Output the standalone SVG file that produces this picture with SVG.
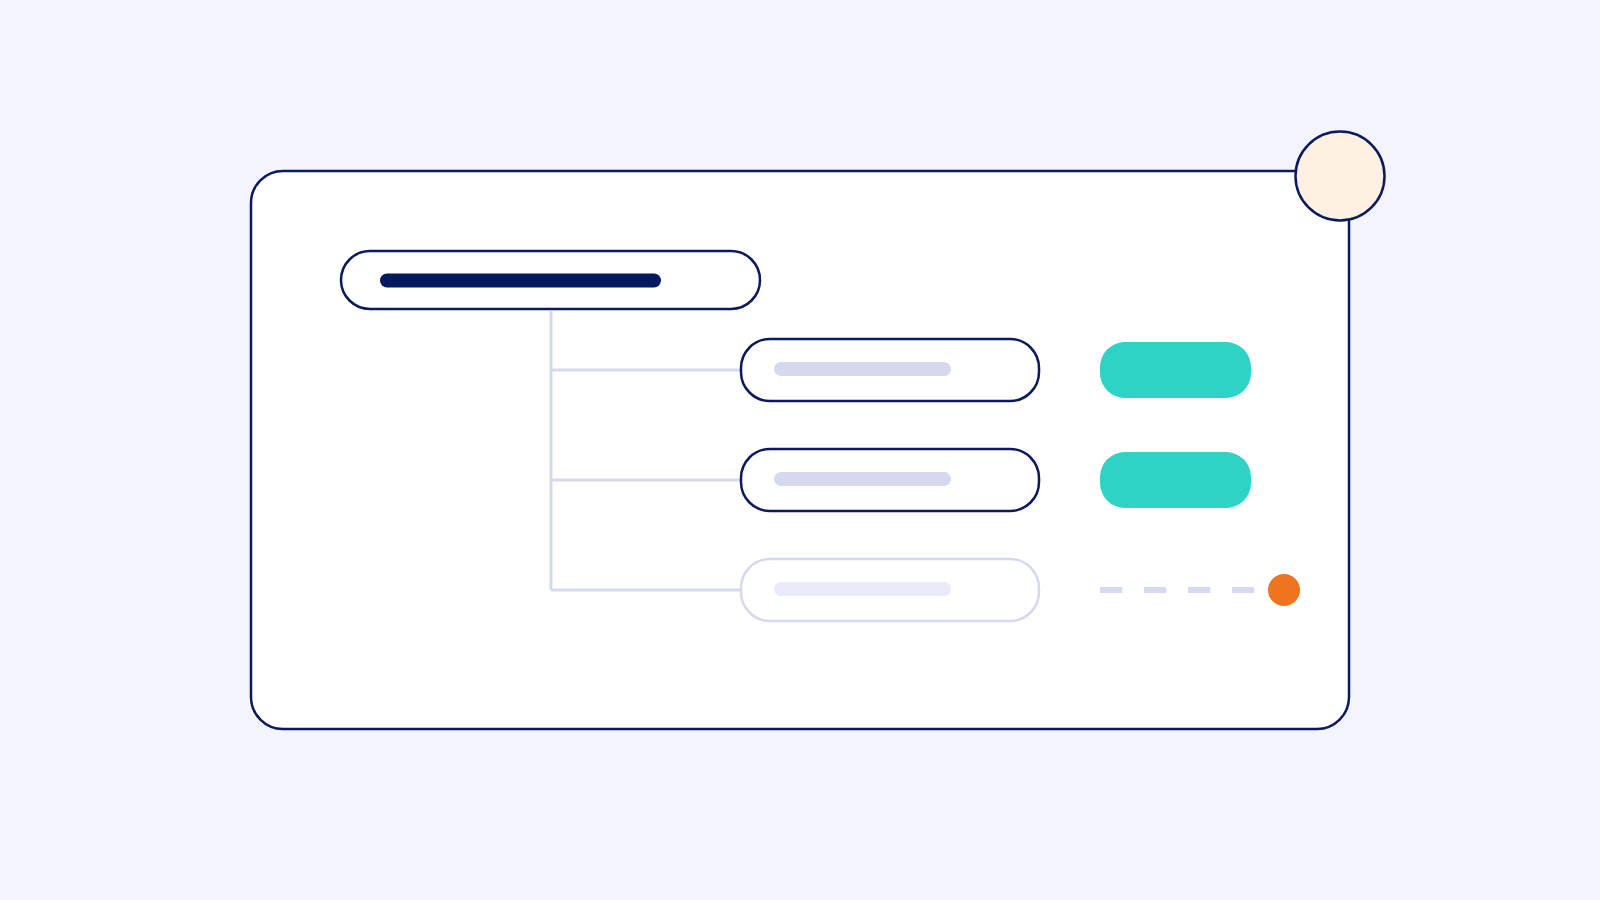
<svg xmlns="http://www.w3.org/2000/svg" width="1600" height="900" viewBox="0 0 1600 900">
<style>
.navy{stroke:#0B1A5E;stroke-width:2.5;fill:#fff}
.faint{stroke:#D6D9EE;stroke-width:2.5;fill:#fff}
.conn{stroke:#D6D9EE;stroke-width:3;fill:none}
.bar{fill:#D6D9EE}
.teal{fill:#2ED3C6}
</style>
<rect width="1600" height="900" fill="#F3F4FD"/>
<g id="card">
<rect class="navy" x="251" y="171" width="1098" height="558" rx="32"/>
</g>
<g id="badge">
<circle cx="1340" cy="176" r="44.5" fill="#FFF0E4" stroke="#0B1A5E" stroke-width="2.5"/>
</g>
<g id="connectors">
<path class="conn" d="M551 311 V590 M551 370 H741 M551 480 H741 M551 590 H741"/>
</g>
<g id="root">
<rect class="navy" x="341" y="251" width="419" height="58" rx="29"/>
<rect x="380" y="273.5" width="281" height="14" rx="7" fill="#031A5F"/>
</g>
<g id="child1">
<rect class="navy" x="741" y="339" width="298" height="62" rx="29"/>
<rect class="bar" x="774" y="362" width="177" height="14" rx="7"/>
</g>
<g id="child2">
<rect class="navy" x="741" y="449" width="298" height="62" rx="29"/>
<rect class="bar" x="774" y="472" width="177" height="14" rx="7"/>
</g>
<g id="child3">
<rect class="faint" x="741" y="559" width="298" height="62" rx="29"/>
<rect x="774" y="582" width="177" height="14" rx="7" fill="#E8EAF7"/>
</g>
<g id="tag1">
<rect class="teal" x="1100" y="342" width="151" height="56" rx="25"/>
</g>
<g id="tag2">
<rect class="teal" x="1100" y="452" width="151" height="56" rx="25"/>
</g>
<g id="pending">
<line x1="1100" y1="590" x2="1256" y2="590" stroke="#D6D9F2" stroke-width="6" stroke-dasharray="22.3 21.7"/>
<circle cx="1284" cy="590" r="16" fill="#F07320"/>
</g>
</svg>
